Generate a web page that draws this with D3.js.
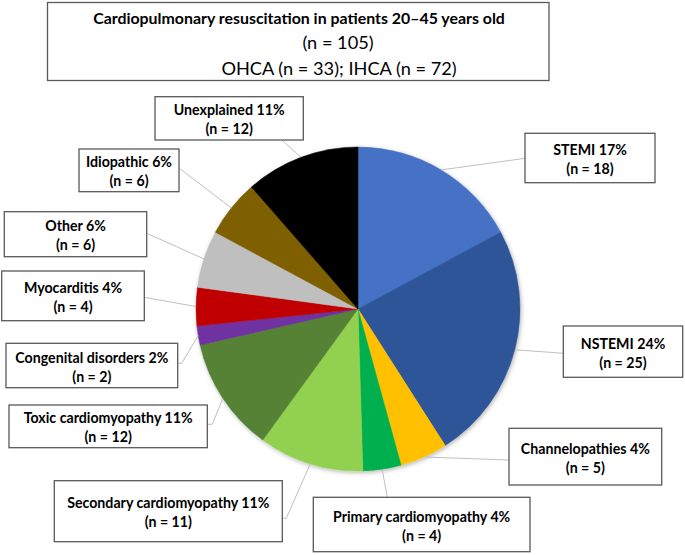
<!DOCTYPE html>
<html>
<head>
<meta charset="utf-8">
<script src="https://cdn.jsdelivr.net/npm/d3@7"></script>
<style>
  html, body { margin: 0; padding: 0; background: #fff; }
  svg { display: block; }
  text { font-family: Lato, "Open Sans", sans-serif; fill: #000; }
</style>
</head>
<body>
<svg id="chart" width="685" height="555"></svg>
<script>
// ---------- data ----------
const categories = ["STEMI", "NSTEMI", "Channelopathies", "Primary cardiomyopathy",
  "Secondary cardiomyopathy", "Toxic cardiomyopathy", "Congenital disorders",
  "Myocarditis", "Other", "Idiopathic", "Unexplained"];
const counts = [18, 25, 5, 4, 11, 12, 2, 4, 6, 6, 12];
const percentLabels = ["17%", "24%", "4%", "4%", "11%", "11%", "2%", "4%", "6%", "6%", "11%"];
const sliceColors = ["#4472C4", "#2F5597", "#FFC000", "#00B050", "#92D050", "#548235",
  "#7030A0", "#C00000", "#BFBFBF", "#7F6000", "#000000"];
const titleLines = ["Cardiopulmonary resuscitation in patients 20\u201345 years old",
  "(n = 105)", "OHCA (n = 33); IHCA (n = 72)"];

// ---------- layout (label boxes: x, y, w, h; leader anchor; elbow) ----------
const labelBoxes = [
  { x: 525,   y: 133.3, w: 130,   h: 49.4, ax: 525,   ay: 158.3, elbow: 0 },
  { x: 563.3, y: 326,   w: 119.4, h: 51.3, ax: 563.3, ay: 353.3, elbow: 0 },
  { x: 509,   y: 428.3, w: 152.7, h: 56.7, ax: 509,   ay: 460,   elbow: 0 },
  { x: 313.3, y: 497.3, w: 216.7, h: 54.4, ax: 387.3, ay: 497.3, elbow: 0 },
  { x: 54.3,  y: 480.7, w: 228,   h: 61,   ax: 282.3, ay: 518.3, elbow: 4 },
  { x: 9,     y: 405,   w: 198.3, h: 42.7, ax: 207.3, ay: 424.3, elbow: 5 },
  { x: 6,     y: 343.3, w: 171.7, h: 44.4, ax: 177.7, ay: 363.3, elbow: 4 },
  { x: 1.7,   y: 271,   w: 142.6, h: 49.7, ax: 144.3, ay: 297.3, elbow: 0 },
  { x: 4.3,   y: 211.7, w: 142.4, h: 45,   ax: 146.7, ay: 233.3, elbow: 0 },
  { x: 79,    y: 149,   w: 100,   h: 42.7, ax: 179,   ay: 168,   elbow: 0 },
  { x: 155,   y: 96.7,  w: 148.3, h: 43.3, ax: 281.7, ay: 140,   elbow: 0 }
];

const svg = d3.select("#chart");
const cx = 358, cy = 309, R = 162;

// shadow filter
const defs = svg.append("defs");
const f = defs.append("filter").attr("id", "shadow")
  .attr("x", "-10%").attr("y", "-10%").attr("width", "120%").attr("height", "120%");
f.append("feDropShadow").attr("dx", 1).attr("dy", 1.5).attr("stdDeviation", 2)
  .attr("flood-color", "#000").attr("flood-opacity", 0.3);

// ---------- title box ----------
svg.append("rect").attr("x", 47.5).attr("y", 2.5).attr("width", 501.5).attr("height", 78)
  .attr("fill", "#fff").attr("stroke", "#595959").attr("stroke-width", 1.3);
const titleY = [23.5, 48.5, 74.5];
const titleX = [299, 338, 339];
titleLines.forEach((t, i) => {
  svg.append("text").attr("x", titleX[i]).attr("y", titleY[i])
    .attr("text-anchor", "middle")
    .attr("font-size", i === 0 ? 15.9 : 18.2)
    .attr("font-weight", i === 0 ? 700 : 400)
    .text(t);
});

// ---------- pie ----------
const data = categories.map((c, i) => ({ name: c, value: counts[i], pct: percentLabels[i], color: sliceColors[i], box: labelBoxes[i] }));
const pie = d3.pie().value(d => d.value).sort(null).startAngle(0).endAngle(2 * Math.PI);
const arcs = pie(data);
const arc = d3.arc().innerRadius(0).outerRadius(R);

const g = svg.append("g").attr("transform", `translate(${cx},${cy})`);
g.append("g").attr("filter", "url(#shadow)")
  .selectAll("path").data(arcs).join("path")
  .attr("d", arc)
  .attr("fill", d => d.data.color)
  .attr("stroke", d => d.data.color)
  .attr("stroke-width", 0.5);

// ---------- leader lines ----------
const leaders = svg.append("g");
arcs.forEach(a => {
  const mid = (a.startAngle + a.endAngle) / 2;
  const px = cx + R * Math.sin(mid), py = cy - R * Math.cos(mid);
  const b = a.data.box;
  const pts = [[b.ax, b.ay]];
  if (b.elbow) pts.push([b.ax + b.elbow, b.ay]);
  pts.push([px, py]);
  leaders.append("path")
    .attr("d", d3.line()(pts))
    .attr("fill", "none").attr("stroke", "#BFBFBF").attr("stroke-width", 1);
});

// ---------- label boxes ----------
const labels = svg.append("g");
data.forEach(d => {
  const b = d.box;
  labels.append("rect").attr("x", b.x).attr("y", b.y).attr("width", b.w).attr("height", b.h)
    .attr("fill", "#fff").attr("stroke", "#595959").attr("stroke-width", 1.3);
  const mx = b.x + b.w / 2, my = b.y + b.h / 2;
  labels.append("text").attr("x", mx).attr("y", my - 3)
    .attr("text-anchor", "middle").attr("font-size", 14.2).attr("font-weight", 700)
    .text(`${d.name} ${d.pct}`);
  labels.append("text").attr("x", mx).attr("y", my + 16)
    .attr("text-anchor", "middle").attr("font-size", 14.2).attr("font-weight", 700)
    .text(`(n = ${d.value})`);
});
</script>
</body>
</html>
